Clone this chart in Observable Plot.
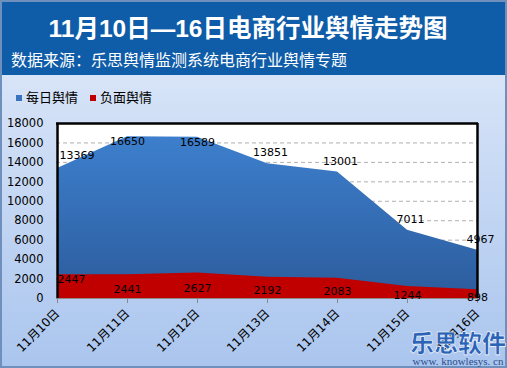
<!DOCTYPE html>
<html><head><meta charset="utf-8">
<script src="https://cdn.jsdelivr.net/npm/d3@7"></script>
<script src="https://cdn.jsdelivr.net/npm/@observablehq/plot@0.6"></script>
<style>
body{margin:0;}
#wrap{position:relative;width:507px;height:368px;overflow:hidden;background:linear-gradient(#e3ecfa,#aac5ee);font-family:"DejaVu Sans","Noto Sans CJK SC",sans-serif;box-shadow:inset 0 0 0 2px #6f8fbd;}
#band{position:absolute;left:2px;top:2px;width:503px;height:73px;background:#0f5ca8;color:#fff;}
#title{position:absolute;left:0;width:492px;top:7px;text-align:center;font:bold 24.5px "Liberation Sans","Noto Sans CJK SC",sans-serif;}
#sub{position:absolute;left:9px;top:47px;font:16px "Noto Sans CJK SC",sans-serif;line-height:20px;}
#legend{position:absolute;left:16px;top:87px;font:13px "Noto Sans CJK SC",sans-serif;color:#000;}
#legend span.sw{display:inline-block;width:6px;height:6px;margin-right:4px;vertical-align:middle;}
#legend span.it{margin-right:12px;}
#chart{position:absolute;left:0;top:77px;}
#wm{position:absolute;left:410px;top:328px;color:#2b63b6;text-align:center;}
#wm .a{font:900 24px "Noto Sans CJK SC",sans-serif;-webkit-text-stroke:0.6px #fff;line-height:28px;}
#wm .b{font:11px "Liberation Serif",serif;color:#2a4d8c;line-height:11px;}
</style></head><body>
<div id="wrap">
  <div id="band"><div id="title">11月10日—16日电商行业舆情走势图</div><div id="sub">数据来源：乐思舆情监测系统电商行业舆情专题</div></div>
  <div id="legend"><span class="it"><span class="sw" style="background:#3a74bd"></span>每日舆情</span><span class="it"><span class="sw" style="background:#c00000"></span>负面舆情</span></div>
  <div id="chart"></div>
  <div id="wm"><div class="a">乐思软件</div><div class="b">www. knowlesys. cn</div></div>
</div>
<script>
const dates = ["11月10日","11月11日","11月12日","11月13日","11月14日","11月15日","11月16日"];
const daily = [13369,16650,16589,13851,13001,7011,4967];
const negative = [2447,2441,2627,2192,2083,1244,898];
const yTicks = [0,2000,4000,6000,8000,10000,12000,14000,16000,18000];
const gridTicks = [2000,4000,6000,8000,10000,12000,14000,16000];

const rows = dates.map((d,i)=>({date:d,total:daily[i],neg:negative[i],i}));

const svg = Plot.plot({
  width:507, height:291,
  marginLeft:56, marginRight:29, marginTop:46, marginBottom:70,
  style:{background:"transparent",fontSize:"11px",fontFamily:'"DejaVu Sans","Noto Sans CJK SC",sans-serif',color:"#000",overflow:"visible"},
  x:{type:"point",domain:dates,padding:0,label:null},
  y:{domain:[0,18000],label:null},
  marks:[
    Plot.frame({fill:"white",stroke:null}),
    Plot.ruleY(gridTicks,{stroke:"#b0b0b0",strokeDasharray:"4,3"}),
    Plot.areaY(rows,{x:"date",y:"total",fill:"url(#blueGrad)"}),
    Plot.areaY(rows,{x:"date",y:"neg",fill:"#c00000"}),
    Plot.ruleY([0],{stroke:"#8a8a8a"}),
    Plot.ruleY([18000],{stroke:"black",strokeWidth:2.5}),
    Plot.ruleX([dates[0],dates[dates.length-1]],{stroke:"black",strokeWidth:2.5}),
    Plot.axisY({ticks:yTicks,tickSize:0,tickPadding:13,tickFormat:d=>String(d),fontSize:11.5}),
    Plot.axisX({tickRotate:-45,tickSize:5,stroke:"#8a8a8a",tickPadding:8,fontSize:12,fill:"#000"}),
    // daily labels
    Plot.text(rows,{filter:d=>d.i===0,x:"date",y:"total",text:d=>String(d.total),textAnchor:"start",dx:2,dy:-13,fontSize:11,fill:"#000"}),
    Plot.text(rows,{filter:d=>d.i>0 && d.total>16000,x:"date",y:"total",text:d=>String(d.total),dy:5,fontSize:11,fill:"#000"}),
    Plot.text(rows,{filter:d=>d.i>0 && d.total<=16000,x:"date",y:"total",text:d=>String(d.total),dy:-11,dx:3,fontSize:11,fill:"#000"}),
    // negative labels
    Plot.text(rows,{filter:d=>d.i===0,x:"date",y:"neg",text:d=>String(d.neg),textAnchor:"start",dy:5,fontSize:11,fill:"#000"}),
    Plot.text(rows,{filter:d=>d.i>0,x:"date",y:d=>d.neg/2,text:d=>String(d.neg),dy:3,fontSize:11,fill:"#000"})
  ]
});
d3.select(svg).insert("defs",":first-child").html(
  '<linearGradient id="blueGrad" x1="0" y1="0" x2="0" y2="1"><stop offset="0" stop-color="#3d7fcd"/><stop offset="1" stop-color="#2c5c9c"/></linearGradient>'
);
document.getElementById("chart").appendChild(svg);
</script>
</body></html>
